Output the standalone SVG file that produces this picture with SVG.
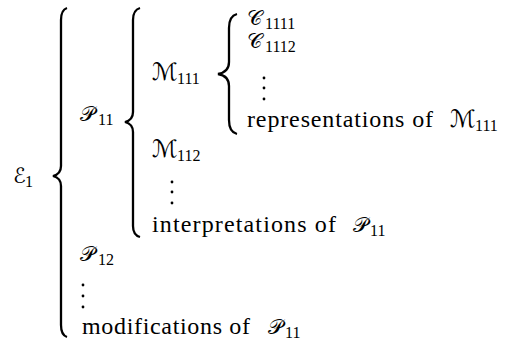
<svg xmlns="http://www.w3.org/2000/svg" width="512" height="341" viewBox="0 0 512 341">
<style>
.bg{fill:#fff}
.t{font-family:'Liberation Serif','DejaVu Serif',serif;font-size:24px;fill:#000}
.cal{font-family:'DejaVu Serif','DejaVu Sans','Noto Sans',serif;font-size:21px;fill:#000}
.calm{font-family:'DejaVu Serif','DejaVu Sans','Noto Sans',serif;font-size:24px;fill:#000}
.sub{font-family:'Liberation Serif','DejaVu Serif',serif;font-size:16px;fill:#000}
.br{fill:none;stroke:#000;stroke-width:2.3;stroke-linejoin:miter;stroke-linecap:butt}
.dot{fill:#000}
</style>
<rect class="bg" x="0" y="0" width="512" height="341"/>
<g id="connectors">
<path class="br" d="M67,8 Q61,10 61,20 L61,166 Q61,174 53,176 Q61,178 61,186 L61,325 Q61,335 67,337"/>
<path class="br" d="M140,8 Q133,10 133,20 L133,112 Q133,120 125,122 Q133,124 133,132 L133,226 Q133,235 140,237"/>
<path class="br" d="M237,14 Q229,16 229,28 L229,62 Q229,72 218,74 Q229,76 229,86 L229,120 Q229,132 237,134"/>
</g>
<g id="e1"><text class="cal" x="13" y="183">ℰ<tspan class="sub" font-family="Liberation Serif, serif" x="25" y="187">1</tspan></text></g>
<g id="p11"><text class="cal" x="80" y="121">𝒫<tspan class="sub" font-family="Liberation Serif, serif" x="98" y="125">11</tspan></text></g>
<g id="m111"><text class="calm" x="152" y="80">ℳ<tspan class="sub" font-family="Liberation Serif, serif" x="177" y="84">111</tspan></text></g>
<g id="c1111"><text class="cal" x="247" y="25">𝒞<tspan class="sub" font-family="Liberation Serif, serif" x="265" y="29">1111</tspan></text></g>
<g id="c1112"><text class="cal" x="247" y="48">𝒞<tspan class="sub" font-family="Liberation Serif, serif" x="265" y="52">1112</tspan></text></g>
<g id="dots1"><circle class="dot" cx="264" cy="78" r="1.4"/><circle class="dot" cx="264" cy="88" r="1.4"/><circle class="dot" cx="264" cy="99" r="1.4"/></g>
<g id="rep"><text class="t" font-family="Liberation Serif, serif" x="247" y="127" textLength="186" lengthAdjust="spacing">representations of</text><text class="calm" x="450" y="127">ℳ<tspan class="sub" font-family="Liberation Serif, serif" x="475" y="131">111</tspan></text></g>
<g id="m112"><text class="calm" x="152" y="157">ℳ<tspan class="sub" font-family="Liberation Serif, serif" x="177" y="161">112</tspan></text></g>
<g id="dots2"><circle class="dot" cx="172" cy="182" r="1.4"/><circle class="dot" cx="172" cy="192" r="1.4"/><circle class="dot" cx="172" cy="203" r="1.4"/></g>
<g id="interp"><text class="t" font-family="Liberation Serif, serif" x="152" y="232" textLength="184" lengthAdjust="spacing">interpretations of</text><text class="cal" x="353" y="232">𝒫<tspan class="sub" font-family="Liberation Serif, serif" x="370" y="236">11</tspan></text></g>
<g id="p12"><text class="cal" x="80" y="261">𝒫<tspan class="sub" font-family="Liberation Serif, serif" x="98" y="265">12</tspan></text></g>
<g id="dots3"><circle class="dot" cx="83" cy="285" r="1.4"/><circle class="dot" cx="83" cy="296" r="1.4"/><circle class="dot" cx="83" cy="307" r="1.4"/></g>
<g id="modif"><text class="t" font-family="Liberation Serif, serif" x="82" y="334" textLength="168" lengthAdjust="spacing">modifications of</text><text class="cal" x="268" y="334">𝒫<tspan class="sub" font-family="Liberation Serif, serif" x="285" y="338">11</tspan></text></g>
</svg>
